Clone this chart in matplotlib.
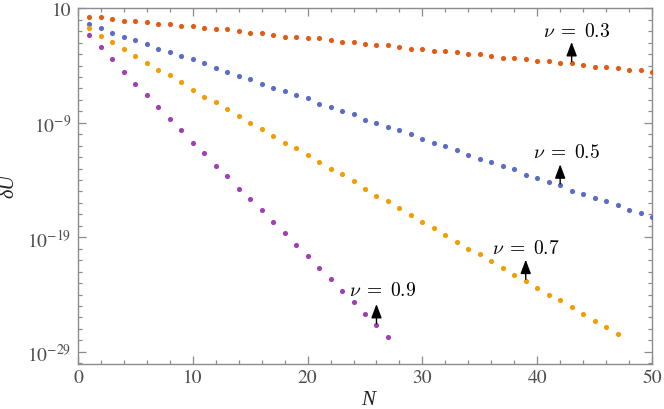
import numpy as np
import matplotlib
matplotlib.use("Agg")
import matplotlib.pyplot as plt
import matplotlib.ticker as ticker

# log10(dU), one point per N
N_03 = list(range(1, 51))
LOG_03 = [0.27, 0.24, 0.07, -0.08, -0.08, -0.22, -0.37, -0.37, -0.52, -0.52,
          -0.69, -0.83, -0.83, -1.01, -1.16, -1.16, -1.31, -1.48, -1.48, -1.62,
          -1.62, -1.79, -1.94, -1.94, -2.09, -2.23, -2.23, -2.41, -2.55, -2.55,
          -2.70, -2.70, -2.84, -2.99, -2.99, -3.17, -3.31, -3.31, -3.45, -3.63,
          -3.63, -3.78, -3.78, -3.93, -4.10, -4.10, -4.24, -4.39, -4.39, -4.54]

N_05 = list(range(1, 51))
LOG_05 = [-0.37, -0.69, -1.16, -1.48, -1.77, -2.09, -2.55, -2.84, -3.17, -3.45,
          -3.78, -4.24, -4.56, -4.89, -5.17, -5.64, -5.96, -6.25, -6.57, -6.86,
          -7.33, -7.65, -7.97, -8.26, -8.73, -9.04, -9.34, -9.66, -9.95, -10.41,
          -10.74, -11.03, -11.38, -11.81, -12.14, -12.45, -12.75, -13.06, -13.53, -13.82,
          -14.14, -14.46, -14.93, -15.22, -15.54, -15.83, -16.15, -16.59, -16.90, -17.23]

N_07 = list(range(1, 48))
LOG_07 = [-0.69, -1.45, -1.92, -2.55, -3.17, -3.78, -4.39, -4.85, -5.46, -6.11,
          -6.72, -7.18, -7.79, -8.41, -9.04, -9.52, -10.13, -10.74, -11.20, -11.81,
          -12.42, -13.06, -13.50, -14.11, -14.76, -15.37, -15.83, -16.44, -17.05, -17.69,
          -18.16, -18.77, -19.38, -20.00, -20.46, -21.07, -21.71, -22.32, -22.79, -23.40,
          -24.01, -24.48, -25.09, -25.72, -26.34, -26.81, -27.42]

N_09 = list(range(1, 28))
LOG_09 = [-1.31, -2.38, -3.45, -4.54, -5.61, -6.55, -7.62, -8.69, -9.66, -10.74,
          -11.66, -12.75, -13.67, -14.76, -15.68, -16.62, -17.69, -18.62, -19.70, -20.63,
          -21.71, -22.64, -23.72, -24.65, -25.72, -26.66, -27.73]

SERIES = [
    (N_03, LOG_03, "#E35B12"),
    (N_05, LOG_05, "#5A6BC8"),
    (N_07, LOG_07, "#F29D00"),
    (N_09, LOG_09, "#A23EB3"),
]

# callouts: label, N of the marked point, series, text offset in pixels
CALLOUTS = [
    (r"$\nu\;=\;0.3$", 43, 0, (4.5, 32)),
    (r"$\nu\;=\;0.5$", 42, 1, (6, 33)),
    (r"$\nu\;=\;0.7$", 39, 2, (0, 33)),
    (r"$\nu\;=\;0.9$", 26, 3, (6, 35)),
]

Y_MAJOR = [1, -9, -19, -29]

plt.rcParams["font.family"] = ["STIXGeneral", "DejaVu Serif"]
plt.rcParams["mathtext.fontset"] = "stix"
FRAME = "#8c8c8c"
LABEL = "#4d4d4d"

fig = plt.figure(figsize=(6.64, 4.10), dpi=100)
ax = fig.add_axes([78 / 664, 1 - 364.7 / 410, 574 / 664, 355.4 / 410])

for n, lg, col in SERIES:
    ax.plot(n, 10.0 ** np.array(lg), "o", color=col, markersize=3.7, markeredgewidth=0, zorder=3)

ax.set_yscale("log")
ax.set_xlim(0, 50)
ax.set_ylim(10.0 ** -30.04, 10.0 ** 1)

ax.xaxis.set_major_locator(ticker.MultipleLocator(10))
ax.xaxis.set_minor_locator(ticker.MultipleLocator(2))
ax.yaxis.set_major_locator(ticker.FixedLocator([10.0 ** e for e in Y_MAJOR]))
ax.yaxis.set_minor_locator(ticker.FixedLocator([10.0 ** e for e in range(-30, 1) if e not in Y_MAJOR]))

def y_fmt(v, _):
    e = int(round(np.log10(v)))
    if e == 1:
        return "10"
    return r"$\mathregular{10^{%d}}$" % e

ax.yaxis.set_major_formatter(ticker.FuncFormatter(y_fmt))
ax.yaxis.set_minor_formatter(ticker.NullFormatter())
ax.xaxis.set_major_formatter(ticker.FuncFormatter(lambda v, _: "%d" % v))

ax.tick_params(which="both", direction="in", top=True, right=True, color=FRAME, width=0.9,
               labelsize=14, labelcolor=LABEL)
ax.tick_params(which="major", length=5.5)
ax.tick_params(which="minor", length=3)
ax.tick_params(axis="x", pad=4)
ax.tick_params(axis="y", pad=5)
for s in ax.spines.values():
    s.set_color(FRAME)
    s.set_linewidth(1.0)

for text, n, k, (dx, dy) in CALLOUTS:
    ns, lg, _ = SERIES[k]
    yv = 10.0 ** lg[ns.index(n)]
    ax.annotate("", xy=(n, yv), xytext=(0, 21), textcoords="offset pixels",
                arrowprops=dict(arrowstyle="<|-,head_length=0.85,head_width=0.32",
                                color="black", lw=1.0, shrinkA=0, shrinkB=1,
                                mutation_scale=10), zorder=4)
    ax.annotate(text, xy=(n, yv), xytext=(dx, dy), textcoords="offset pixels",
                ha="center", va="center", fontsize=14, math_fontfamily="cm", zorder=5)

fig.text(8.5 / 664, 1 - 186.5 / 410, "δU", rotation=90, ha="center", va="center",
         fontsize=14.5, family="Liberation Serif", style="italic", color="#222222")
fig.text(368.5 / 664, 1 - 400.5 / 410, "N", ha="center", va="center",
         fontsize=15, family="Liberation Serif", style="italic", color="#222222")

fig.savefig("out.png", dpi=100)
